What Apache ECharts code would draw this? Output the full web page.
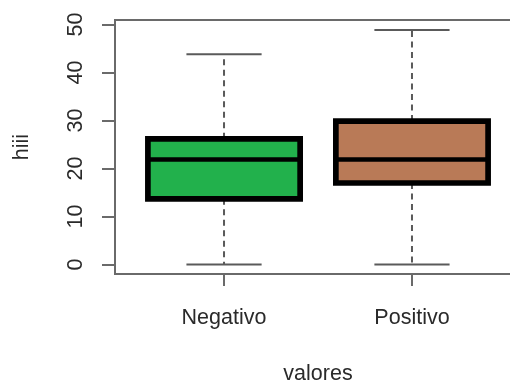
<!DOCTYPE html>
<html>
<head>
<meta charset="utf-8">
<script src="https://cdn.jsdelivr.net/npm/echarts@6/dist/echarts.min.js"></script>
<style>html,body{margin:0;padding:0;background:#fff}#c{width:510px;height:381px}</style>
</head>
<body>
<div id="c"></div>
<script>
const categories = ['Negativo', 'Positivo'];
const mins    = [0, 0];
const q1s     = [13.7, 17.0];
const medians = [21.9, 21.9];
const q3s     = [26.2, 29.9];
const maxs    = [43.8, 48.9];
const fillColors = ['#22B14C', '#B97A57'];
const yTicks = [0, 10, 20, 30, 40, 50];
const xTicks = [1, 2];

const data = categories.map((c, i) => [i + 1, mins[i], q1s[i], medians[i], q3s[i], maxs[i]]);

const FONT = '"Liberation Sans", Arial, sans-serif';
const TXT = '#2a2a2a';
const AX = '#6a6a6a';

const chart = echarts.init(document.getElementById('c'));
chart.setOption({
  animation: false,
  backgroundColor: '#fff',
  grid: { left: 115, top: 20, width: 406, height: 254, outerBoundsMode: 'none', containLabel: false,
          show: true, borderColor: AX, borderWidth: 2, backgroundColor: 'transparent' },
  xAxis: {
    type: 'value', min: 0.42, max: 2.58,
    name: 'valores', nameLocation: 'middle', nameGap: 89,
    nameTextStyle: { fontFamily: FONT, fontSize: 21.5, color: TXT },
    axisLine: { show: true, onZero: false, lineStyle: { color: AX, width: 2 } },
    axisTick: { show: true, customValues: xTicks, length: 12, lineStyle: { color: AX, width: 2 } },
    axisLabel: { customValues: xTicks, formatter: v => categories[Math.round(v) - 1] || '', margin: 33, fontFamily: FONT, fontSize: 21.5, color: TXT },
    splitLine: { show: false }
  },
  yAxis: {
    type: 'value', min: -1.96, max: 50.96,
    name: 'hiii', nameLocation: 'middle', nameGap: 82,
    nameTextStyle: { fontFamily: FONT, fontSize: 21.5, color: TXT },
    axisLine: { show: true, onZero: false, lineStyle: { color: AX, width: 2 } },
    axisTick: { show: true, customValues: yTicks, length: 13, lineStyle: { color: AX, width: 2 } },
    axisLabel: { customValues: yTicks, rotate: 90, margin: 28, fontFamily: FONT, fontSize: 21.5, color: TXT },
    splitLine: { show: false }
  },
  series: [{
    type: 'custom',
    data: data,
    encode: { x: 0, y: [1, 2, 3, 4, 5] },
    renderItem: function (params, api) {
      const x = api.value(0);
      const i = params.dataIndex;
      const pMin = api.coord([x, api.value(1)]);
      const pQ1 = api.coord([x, api.value(2)]);
      const pMed = api.coord([x, api.value(3)]);
      const pQ3 = api.coord([x, api.value(4)]);
      const pMax = api.coord([x, api.value(5)]);
      const bw = api.size([0.81, 0])[0];
      const cw = api.size([0.4, 0])[0];
      const cx = pMed[0];
      const wStyle = { stroke: '#5a5a5a', lineWidth: 2, lineDash: [6, 4.5] };
      const cStyle = { stroke: '#5a5a5a', lineWidth: 2 };
      return {
        type: 'group',
        children: [
          { type: 'line', shape: { x1: cx, y1: pQ3[1], x2: cx, y2: pMax[1] }, style: wStyle },
          { type: 'line', shape: { x1: cx, y1: pQ1[1], x2: cx, y2: pMin[1] }, style: wStyle },
          { type: 'line', shape: { x1: cx - cw / 2, y1: pMax[1], x2: cx + cw / 2, y2: pMax[1] }, style: cStyle },
          { type: 'line', shape: { x1: cx - cw / 2, y1: pMin[1], x2: cx + cw / 2, y2: pMin[1] }, style: cStyle },
          { type: 'rect', shape: { x: cx - bw / 2, y: pQ3[1], width: bw, height: pQ1[1] - pQ3[1] },
            style: { fill: fillColors[i], stroke: '#000', lineWidth: 5.7 } },
          { type: 'line', shape: { x1: cx - bw / 2, y1: pMed[1], x2: cx + bw / 2, y2: pMed[1] },
            style: { stroke: '#000', lineWidth: 4.3 } }
        ]
      };
    }
  }]
});
</script>
</body>
</html>
